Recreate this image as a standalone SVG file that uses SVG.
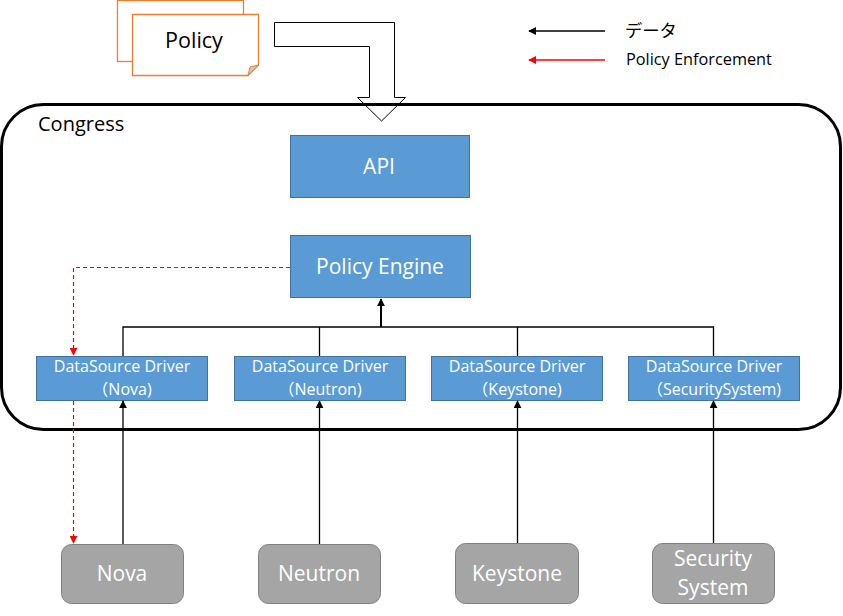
<svg xmlns="http://www.w3.org/2000/svg" width="843" height="616" viewBox="0 0 843 616">
<style>
text{font-family:"Open Sans","Noto Sans","Noto Sans CJK JP",sans-serif}
.blue{fill:#5B9BD5;stroke:#41719C;stroke-width:1}
.gray{fill:#A5A5A5;stroke:#7F7F7F;stroke-width:1}
.wt{fill:#fff;text-anchor:middle}
.doc{fill:#fff;stroke:#ED7D31;stroke-width:1.3}
.blk{stroke:#000;stroke-width:1.3;fill:none}
.red{stroke:#f00;stroke-width:1.2;fill:none;stroke-dasharray:4,3}
.drv{font-size:16px}
.big{font-size:21px}
</style>
<defs>
<marker id="ab" viewBox="0 0 10 10" refX="9" refY="5" markerWidth="8" markerHeight="8" markerUnits="userSpaceOnUse" orient="auto"><path d="M0,0 L10,5 L0,10 z" fill="#000"/></marker>
<marker id="ar" viewBox="0 0 10 10" refX="9" refY="5" markerWidth="8" markerHeight="8" markerUnits="userSpaceOnUse" orient="auto"><path d="M0,0 L10,5 L0,10 z" fill="#f00"/></marker>
</defs>
<g id="policy">
<rect class="doc" x="117.5" y="0.5" width="126" height="61"/>
<path class="doc" d="M132.5,14.5 H258.5 V65 L248,75.5 H132.5 Z"/>
<path d="M258.5,65 L250,67 L248,75.5 Z" fill="#C9C9C9" stroke="#ED7D31" stroke-width="1"/>
<text x="194" y="48" font-size="21.5" text-anchor="middle" fill="#000">Policy</text>
</g>
<g id="blockarrow">
<path d="M274.5,22.5 H394.5 V97.5 H405.5 L381.5,121 L357.5,97.5 H369.5 V46.5 H274.5 Z" fill="#fff" stroke="#000" stroke-width="1"/>
</g>
<g id="legend">
<line class="blk" x1="605" y1="31" x2="529" y2="31" marker-end="url(#ab)"/>
<text x="625" y="37" font-size="17.3" fill="#000">データ</text>
<line x1="605" y1="60" x2="529" y2="60" stroke="#f00" stroke-width="1.3" marker-end="url(#ar)"/>
<text x="626" y="65" font-size="16.3" fill="#000">Policy Enforcement</text>
</g>
<g id="congress">
<rect x="1.5" y="104.5" width="839" height="325" rx="42" fill="none" stroke="#000" stroke-width="3"/>
<text x="38" y="131" font-size="20" fill="#000">Congress</text>
</g>
<g id="api">
<rect class="blue" x="290.5" y="135.5" width="179" height="62"/>
<text class="wt big" x="379" y="174">API</text>
</g>
<g id="engine">
<rect class="blue" x="290.5" y="235.5" width="180" height="62"/>
<text class="wt big" x="380" y="274">Policy Engine</text>
</g>
<g id="drv-nova">
<rect class="blue" x="36.5" y="356.5" width="171" height="44"/>
<text class="wt drv" x="122" y="372">DataSource Driver</text>
<text class="wt drv" x="122" y="395">（Nova)</text>
</g>
<g id="drv-neutron">
<rect class="blue" x="234.5" y="356.5" width="171" height="44"/>
<text class="wt drv" x="320" y="372">DataSource Driver</text>
<text class="wt drv" x="320" y="395">（Neutron)</text>
</g>
<g id="drv-keystone">
<rect class="blue" x="431.5" y="356.5" width="171" height="44"/>
<text class="wt drv" x="517" y="372">DataSource Driver</text>
<text class="wt drv" x="517" y="395">（Keystone)</text>
</g>
<g id="drv-security">
<rect class="blue" x="628.5" y="356.5" width="171" height="44"/>
<text class="wt drv" x="714" y="372">DataSource Driver</text>
<text class="wt drv" x="714" y="395">（SecuritySystem)</text>
</g>
<g id="nova">
<rect class="gray" x="61.5" y="544.5" width="122" height="59" rx="10"/>
<text class="wt big" x="122" y="581">Nova</text>
</g>
<g id="neutron">
<rect class="gray" x="258.5" y="544.5" width="122" height="59" rx="10"/>
<text class="wt big" x="319" y="581">Neutron</text>
</g>
<g id="keystone">
<rect class="gray" x="455.5" y="543.5" width="123" height="60" rx="10"/>
<text class="wt big" x="517" y="581">Keystone</text>
</g>
<g id="security">
<rect class="gray" x="652.5" y="543.5" width="122" height="60" rx="10"/>
<text class="wt big" x="713" y="566">Security</text>
<text class="wt big" x="713" y="595">System</text>
</g>
<g id="connectors">
<path class="blk" d="M123,356 V327 H713.5 V356 M319.5,327 V356 M517.5,327 V356"/>
<line x1="381" y1="327" x2="381" y2="299" stroke="#000" stroke-width="2" marker-end="url(#ab)"/>
<line class="blk" x1="123" y1="544" x2="123" y2="401" marker-end="url(#ab)"/>
<line class="blk" x1="319.5" y1="544" x2="319.5" y2="401" marker-end="url(#ab)"/>
<line class="blk" x1="517.5" y1="543" x2="517.5" y2="401" marker-end="url(#ab)"/>
<line class="blk" x1="713.5" y1="543" x2="713.5" y2="401" marker-end="url(#ab)"/>
<path class="red" d="M290,267.5 H73.5 V355" marker-end="url(#ar)"/>
<path class="red" d="M73.5,401 V543" marker-end="url(#ar)"/>
</g>
</svg>
